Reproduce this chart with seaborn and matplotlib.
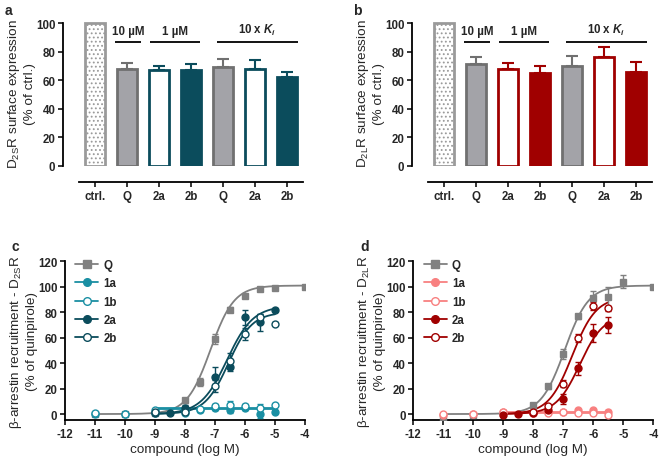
import numpy as np
import pandas as pd
import matplotlib
matplotlib.use("Agg")
import matplotlib.pyplot as plt
from matplotlib.lines import Line2D
import seaborn as sns

sns.set_style("ticks")
plt.rcParams["font.family"] = ["Liberation Sans", "DejaVu Sans"]
plt.rcParams["mathtext.default"] = "regular"
plt.rcParams["mathtext.fontset"] = "custom"
plt.rcParams["mathtext.it"] = "Liberation Sans:italic:bold"
plt.rcParams["axes.unicode_minus"] = False
plt.rcParams["hatch.linewidth"] = 0.8

# ---- bar panels (a, b) ----
bar_labels = ["ctrl.", "Q", "2a", "2b", "Q", "2a", "2b"]
bar_a = [100, 68, 67, 67, 69, 68, 62]
err_a = [0, 4, 3, 4, 6, 6, 4]
bar_b = [100, 71, 68, 65, 70, 76, 66]
err_b = [0, 5, 4, 5, 7, 7, 7]
groups = [("10 µM", 0.62, 1.45), ("1 µM", 1.72, 3.28), ("10 x $\\mathit{K_i}$", 3.8, 6.35)]

# ---- dose response panels (c, d) ----
logc = [-11, -10, -9, -8.5, -8, -7.5, -7, -6.5, -6, -5.5, -5, -4]

c_Q = [0, 0, 1, np.nan, 11, 25, 59, 82, 93, 98, 99, 100]
c_Q_err = [0, 0, 1, 0, 2, 3, 4, 2, 1, 1, 1, 0]
c_1a = [0, 0, 1, np.nan, 3, 3, 5, 3, 5, 0, 2, np.nan]
c_1a_err = [0, 0, 1, 0, 1, 1, 2, 2, 2, 3, 1, 0]
c_1b = [1, 0, 3, np.nan, 1, 4, 6, 7, 6, 5, 7, np.nan]
c_1b_err = [0, 0, 1, 0, 1, 1, 2, 3, 2, 3, 1, 0]
c_2a = [np.nan, np.nan, 1, 1, 5, np.nan, 29, 37, 76, 72, 82, np.nan]
c_2a_err = [0, 0, 1, 1, 2, 0, 8, 3, 6, 7, 1, 0]
c_2b = [np.nan, np.nan, 2, np.nan, 2, np.nan, 22, 42, 63, 76, 71, np.nan]
c_2b_err = [0, 0, 1, 0, 1, 0, 5, 6, 5, 3, 1, 0]

d_Q = [-4, -1, 1, np.nan, 7, 22, 47, 77, 91, 92, 104, 100]
d_Q_err = [0, 0, 1, 0, 2, 2, 4, 2, 6, 8, 5, 0]
d_1a = [-1, 0, 2, np.nan, 1, 2, 2, 3, 3, 2, np.nan, np.nan]
d_1a_err = [0, 0, 1, 0, 1, 1, 1, 1, 1, 1, 0, 0]
d_1b = [0, 0, 2, np.nan, 1, 1, 2, 1, 1, -1, np.nan, np.nan]
d_1b_err = [0, 0, 1, 0, 1, 1, 1, 1, 1, 1, 0, 0]
d_2a = [np.nan, np.nan, -1, 0, 1, 3, 12, 36, 64, 70, np.nan, np.nan]
d_2a_err = [0, 0, 1, 1, 1, 1, 4, 5, 7, 6, 0, 0]
d_2b = [np.nan, np.nan, np.nan, np.nan, 2, 6, 24, 60, 85, 83, np.nan, np.nan]
d_2b_err = [0, 0, 0, 0, 1, 1, 3, 3, 3, 2, 0, 0]

# fitted sigmoid parameters: (bottom, top, logEC50, hill, xmin, xmax)
fit_c = {"Q": (0, 101, -7.15, 1.1, -11, -4), "1a": (4, 4, -7, 1, -9, -5), "1b": (5, 5, -7, 1, -9, -5),
         "2a": (0, 85, -6.6, 1.0, -9, -5), "2b": (0, 80, -6.55, 1.1, -9, -5)}
fit_d = {"Q": (0, 101, -6.95, 1.1, -11, -4), "1a": (2, 2, -7, 1, -9, -5.5), "1b": (1, 1, -7, 1, -9, -5.5),
         "2a": (0, 78, -6.45, 1.1, -9, -5.5), "2b": (0, 92, -6.7, 1.1, -9, -5.5)}

GRAY_FILL = "#a3a3a8"
GRAY_EDGE = "#707070"
Q_COL = "#808080"
TEAL_DARK = "#0b4c5c"
TEAL_LIGHT = "#1a8fa3"
RED_DARK = "#a00000"
PINK = "#f88080"

FS = 8.3      # tick / legend text (bold)
FS_LAB = 9.7  # axis labels


def bar_panel(ax, vals, errs, dark, ylabel):
    sns.barplot(x=list(range(len(vals))), y=vals, ax=ax, width=0.6, errorbar=None, color="white")
    faces = ["white", GRAY_FILL, "white", dark, GRAY_FILL, "white", dark]
    edges = [Q_COL, GRAY_EDGE, dark, dark, GRAY_EDGE, dark, dark]
    for i, p in enumerate(ax.patches):
        p.set_facecolor(faces[i])
        p.set_edgecolor(edges[i])
        p.set_linewidth(2)
        if i == 0:
            p.set_hatch("....")
            p.set_edgecolor("#9a9a9a")
    for i in range(1, len(vals)):
        ax.errorbar(i, vals[i], yerr=[[0], [errs[i]]], fmt="none", ecolor=edges[i],
                    elinewidth=1.5, capsize=4, capthick=1.5, zorder=1)
    for txt, x0, x1 in groups:
        ax.plot([x0, x1], [87, 87], color="black", lw=1.3, solid_capstyle="butt")
        ax.text((x0 + x1) / 2, 90, txt, ha="center", va="bottom", fontsize=FS, fontweight="bold")
    ax.set_xlim(-1.0, 6.5)
    ax.set_ylim(0, 102)
    ax.set_yticks(range(0, 101, 20))
    ax.set_xticks(range(len(vals)))
    ax.set_xticklabels(bar_labels)
    ax.spines["left"].set_bounds(0, 100)
    ax.spines["bottom"].set_position(("outward", 11.5))
    ax.spines["bottom"].set_bounds(-0.5, 6.5)
    sns.despine(ax=ax)
    ax.set_ylabel(ylabel, fontsize=FS_LAB, labelpad=0)


def sigmoid(x, p):
    bottom, top, ec50, hill = p[:4]
    return bottom + (top - bottom) / (1 + 10 ** ((ec50 - x) * hill))


def curve_panel(ax, series, fits, ylabel):
    handles = []
    for name, y, e, col, marker, filled in series:
        p = fits[name]
        xs = np.linspace(p[4], p[5], 200)
        sns.lineplot(x=xs, y=sigmoid(xs, p), ax=ax, color=col, lw=1.3, zorder=2)
        df = pd.DataFrame({"x": logc, "y": y, "e": e}).dropna()
        ax.errorbar(df["x"], df["y"], yerr=df["e"], fmt=marker, color=col, ms=5,
                    mfc=col if filled else "white", mec=col, mew=1, elinewidth=1,
                    capsize=2.5, capthick=1, zorder=3)
        handles.append(Line2D([], [], color=col, marker=marker, ms=5.5, lw=1.3,
                              mfc=col if filled else "white", mec=col, label=name))
    ax.set_xlim(-12, -4)
    ax.set_ylim(-5, 120)
    ax.set_xticks(range(-12, -3))
    ax.set_yticks(range(0, 121, 20))
    sns.despine(ax=ax)
    ax.set_xlabel("compound (log M)", fontsize=FS_LAB, labelpad=2)
    ax.set_ylabel(ylabel, fontsize=FS_LAB, labelpad=0)
    leg = ax.legend(handles=handles, loc="upper left", bbox_to_anchor=(0.0, 1.08), frameon=False,
                    fontsize=FS, handlelength=2.0, labelspacing=0.55, handletextpad=0.45)
    for t in leg.get_texts():
        t.set_fontweight("bold")


fig = plt.figure(figsize=(6.6, 4.6), dpi=100)
ax_a = fig.add_axes([0.0955, 0.637, 0.3636, 0.317])
ax_b = fig.add_axes([0.6242, 0.637, 0.3636, 0.317])
ax_c = fig.add_axes([0.0985, 0.0839, 0.3636, 0.3457])
ax_d = fig.add_axes([0.6262, 0.0839, 0.3636, 0.3457])

bar_panel(ax_a, bar_a, err_a, TEAL_DARK, "D$_{2S}$R surface expression\n(% of ctrl.)")
bar_panel(ax_b, bar_b, err_b, RED_DARK, "D$_{2L}$R surface expression\n(% of ctrl.)")

curve_panel(ax_c, [("Q", c_Q, c_Q_err, Q_COL, "s", True),
                   ("1a", c_1a, c_1a_err, TEAL_LIGHT, "o", True),
                   ("1b", c_1b, c_1b_err, TEAL_LIGHT, "o", False),
                   ("2a", c_2a, c_2a_err, TEAL_DARK, "o", True),
                   ("2b", c_2b, c_2b_err, TEAL_DARK, "o", False)],
            fit_c, "β-arrestin recruitment - D$_{2S}$R\n(% of quinpirole)")
curve_panel(ax_d, [("Q", d_Q, d_Q_err, Q_COL, "s", True),
                   ("1a", d_1a, d_1a_err, PINK, "o", True),
                   ("1b", d_1b, d_1b_err, PINK, "o", False),
                   ("2a", d_2a, d_2a_err, RED_DARK, "o", True),
                   ("2b", d_2b, d_2b_err, RED_DARK, "o", False)],
            fit_d, "β-arrestin recruitment - D$_{2L}$R\n(% of quinpirole)")

for ax in (ax_a, ax_b, ax_c, ax_d):
    ax.tick_params(labelsize=FS, width=1.3, length=3.5, pad=2)
    for lab in ax.get_xticklabels() + ax.get_yticklabels():
        lab.set_fontweight("bold")
    for s in ("left", "bottom"):
        ax.spines[s].set_linewidth(1.3)
        ax.spines[s].set_color("black")

# panel letters
for letter, px, py in [("a", 5, 4), ("b", 353, 4), ("c", 12, 240), ("d", 360, 240)]:
    fig.text(px / 660, 1 - py / 460, letter, fontsize=10, fontweight="bold", va="top", ha="left")

fig.savefig("out.png", dpi=100)
